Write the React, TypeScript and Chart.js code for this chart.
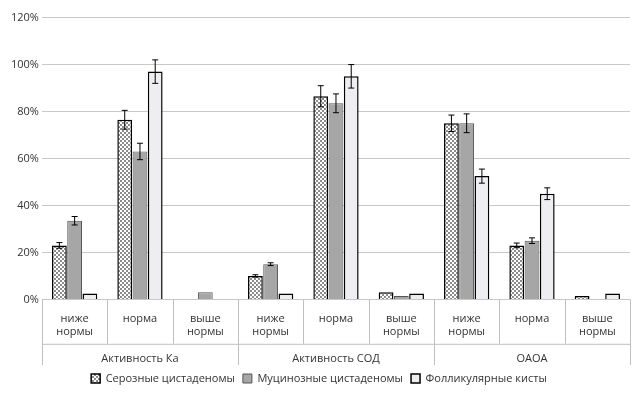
import React, { useEffect, useRef } from "react";
import { Chart, registerables } from "chart.js";
Chart.register(...registerables);

const subLabels = [["ниже", "нормы"], "норма", ["выше", "нормы"], ["ниже", "нормы"], "норма", ["выше", "нормы"], ["ниже", "нормы"], "норма", ["выше", "нормы"]];
const groupLabels = ["Активность Ка", "Активность СОД", "ОАОА"];
const seriesNames = ["Серозные цистаденомы", "Муцинозные цистаденомы", "Фолликулярные кисты"];
const serous = [23, 76.5, 0, 10, 86.5, 3, 75, 23, 1.5];
const mucin = [33.5, 63, 3, 15, 83.5, 1.5, 75, 25, 0];
const follic = [2.5, 97, 0, 2.5, 95, 2.5, 52.5, 45, 2.5];
const serousErr = [1.2, 4, 0, 0.5, 4.5, 0, 3.5, 1, 0];
const mucinErr = [1.8, 3.5, 0, 0.6, 4, 0, 4, 1.2, 0];
const follicErr = [0, 5, 0, 0, 5, 0, 3, 2.5, 0];

function checker() {
  const c = document.createElement("canvas");
  c.width = 4; c.height = 4;
  const g = c.getContext("2d")!;
  g.fillStyle = "#ffffff"; g.fillRect(0, 0, 4, 4);
  g.fillStyle = "#8c8c8c";
  g.fillRect(0, 0, 2, 2); g.fillRect(2, 2, 2, 2);
  return g.createPattern(c, "repeat")!;
}

export default function App() {
  const ref = useRef<HTMLCanvasElement>(null);
  useEffect(() => {
    const pat = checker();
    const errs = [serousErr, mucinErr, follicErr];
    const errPlugin = {
      id: "err",
      afterDatasetsDraw(chart: any) {
        const ctx = chart.ctx; const y = chart.scales.y;
        ctx.save(); ctx.strokeStyle = "#000"; ctx.lineWidth = 1;
        chart.data.datasets.forEach((ds: any, di: number) => {
          chart.getDatasetMeta(di).data.forEach((bar: any, i: number) => {
            const e = errs[di][i]; if (!e) return;
            const v = ds.data[i];
            const t = y.getPixelForValue(v + e), b = y.getPixelForValue(v - e);
            ctx.beginPath();
            ctx.moveTo(bar.x, t); ctx.lineTo(bar.x, b);
            ctx.moveTo(bar.x - 3, t); ctx.lineTo(bar.x + 3, t);
            ctx.moveTo(bar.x - 3, b); ctx.lineTo(bar.x + 3, b);
            ctx.stroke();
          });
        });
        const x = chart.scales.x, x2 = chart.scales.x2;
        ctx.strokeStyle = "#bfbfbf";
        const w = (x.right - x.left) / 9;
        for (let k = 0; k <= 9; k++) {
          const px = Math.round(x.left + k * w) + 0.5;
          const bottom = k % 3 === 0 ? x2.bottom : x.bottom;
          ctx.beginPath(); ctx.moveTo(px, x.top); ctx.lineTo(px, bottom); ctx.stroke();
        }
        ctx.beginPath(); ctx.moveTo(x.left, x.bottom + 0.5); ctx.lineTo(x.right, x.bottom + 0.5); ctx.stroke();
        ctx.restore();
      },
    };
    const font = { family: "Open Sans", size: 11 };
    const chart = new Chart(ref.current!, {
      type: "bar",
      data: {
        labels: subLabels as any,
        datasets: [
          { label: seriesNames[0], data: serous, backgroundColor: pat, borderColor: "#000", borderWidth: 1.5 },
          { label: seriesNames[1], data: mucin, backgroundColor: "#a6a6a6", borderColor: "#555", borderWidth: 1 },
          { label: seriesNames[2], data: follic, backgroundColor: "#eeeef2", borderColor: "#000", borderWidth: 1.5 },
        ],
      },
      options: {
        animation: false, responsive: true, maintainAspectRatio: false,
        layout: { padding: { top: 4, right: 4 } },
        datasets: { bar: { categoryPercentage: 0.7, barPercentage: 0.97 } },
        scales: {
          y: {
            min: 0, max: 120,
            ticks: { stepSize: 20, callback: (v: any) => v + "%", color: "#333", font },
            grid: { color: "#c8c8c8", drawTicks: false }, border: { display: false },
          },
          x: {
            ticks: { color: "#333", font, padding: 5, autoSkip: false, maxRotation: 0 },
            grid: { display: false }, border: { display: false },
          },
          x2: {
            type: "category", position: "bottom", labels: groupLabels,
            ticks: { color: "#333", font, padding: 0, maxRotation: 0 },
            grid: { display: false }, border: { display: false },
          },
        },
        plugins: {
          legend: {
            position: "bottom",
            labels: { boxWidth: 9, boxHeight: 9, color: "#333", font, padding: 8 },
          },
          tooltip: { enabled: false },
        },
      },
      plugins: [errPlugin],
    });
    return () => chart.destroy();
  }, []);
  return <div style={{ width: 626, height: 386 }}><canvas ref={ref} /></div>;
}
